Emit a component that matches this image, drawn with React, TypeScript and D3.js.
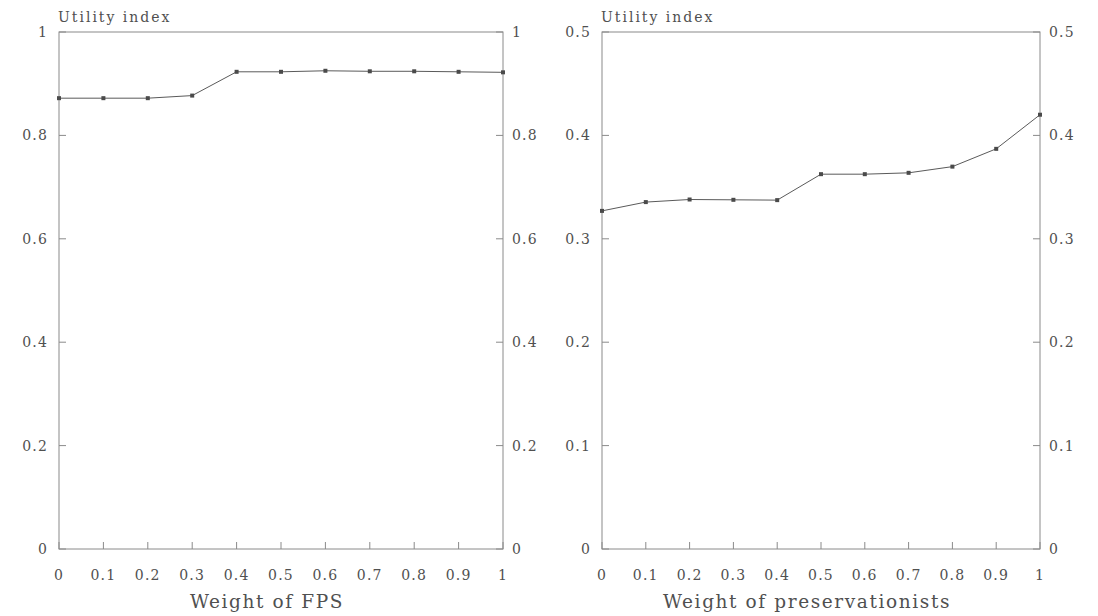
import React from "react";
import * as d3 from "d3";

// Weight steps shared by both panels
const weights = [0, 0.1, 0.2, 0.3, 0.4, 0.5, 0.6, 0.7, 0.8, 0.9, 1];

// Utility index as the FPS weight varies
const fpsUtility = [0.872, 0.872, 0.872, 0.877, 0.923, 0.923, 0.925, 0.924, 0.924, 0.923, 0.922];

// Utility index as the preservationists' weight varies
const presUtility = [0.327, 0.3355, 0.338, 0.3377, 0.3374, 0.3625, 0.3625, 0.3638, 0.3698, 0.387, 0.42];

const xTickValues = [0, 0.1, 0.2, 0.3, 0.4, 0.5, 0.6, 0.7, 0.8, 0.9, 1];
const fpsYTicks = [0, 0.2, 0.4, 0.6, 0.8, 1];
const presYTicks = [0, 0.1, 0.2, 0.3, 0.4, 0.5];

const yAxisTitle = "Utility index";
const fpsXTitle = "Weight of FPS";
const presXTitle = "Weight of preservationists";

const FONT = "'DejaVu Serif', 'Liberation Serif', serif";
const INK = "#5a5a5a";
const FRAME = "#8a8a8a";
const TEXT = "#505050";

const fmt = (v: number) => (v === 0 || v === 1 ? String(v) : String(+v.toFixed(2)));

type PanelProps = {
  left: number;
  right: number;
  top: number;
  bottom: number;
  yMax: number;
  yTicks: number[];
  values: number[];
  xTitle: string;
};

function Panel({ left, right, top, bottom, yMax, yTicks, values, xTitle }: PanelProps) {
  const x = d3.scaleLinear().domain([0, 1]).range([left, right]);
  const y = d3.scaleLinear().domain([0, yMax]).range([bottom, top]);
  const line = d3
    .line<number>()
    .x((_, i) => x(weights[i]))
    .y((d) => y(d));
  const tickLen = 7;
  return (
    <g>
      <rect x={left} y={top} width={right - left} height={bottom - top} fill="none" stroke={FRAME} strokeWidth={1} />
      <text x={left - 1} y={top - 10} fontFamily={FONT} fontSize={14} fill={TEXT} letterSpacing={2}>
        {yAxisTitle}
      </text>
      {yTicks.map((t) => (
        <g key={"y" + t}>
          <line x1={left} x2={left + tickLen} y1={y(t)} y2={y(t)} stroke={FRAME} />
          <line x1={right} x2={right - tickLen} y1={y(t)} y2={y(t)} stroke={FRAME} />
          <text x={left - 11} y={y(t) + 5} textAnchor="end" fontFamily={FONT} fontSize={14} fill={TEXT} letterSpacing={1.2}>
            {fmt(t)}
          </text>
          <text x={right + 9} y={y(t) + 5} textAnchor="start" fontFamily={FONT} fontSize={14} fill={TEXT} letterSpacing={1.2}>
            {fmt(t)}
          </text>
        </g>
      ))}
      {xTickValues.map((t) => (
        <g key={"x" + t}>
          <line x1={x(t)} x2={x(t)} y1={bottom} y2={bottom - tickLen} stroke={FRAME} />
          <text x={x(t)} y={bottom + 31} textAnchor="middle" fontFamily={FONT} fontSize={14} fill={TEXT} letterSpacing={1.2}>
            {fmt(t)}
          </text>
        </g>
      ))}
      <text
        x={(left + right) / 2 - 14}
        y={bottom + 59}
        textAnchor="middle"
        fontFamily={FONT}
        fontSize={18.5}
        fill={TEXT}
        letterSpacing={1.6}
      >
        {xTitle}
      </text>
      <path d={line(values) ?? ""} fill="none" stroke={INK} strokeWidth={1} />
      {values.map((v, i) => (
        <rect key={"m" + i} x={x(weights[i]) - 2} y={y(v) - 2} width={4} height={4} fill="#4a4a4a" />
      ))}
    </g>
  );
}

export default function App() {
  return (
    <svg width={1098} height={616} style={{ display: "block", position: "absolute", left: 0, top: 0, background: "#fff" }}>
      <Panel left={59} right={503} top={32} bottom={549} yMax={1} yTicks={fpsYTicks} values={fpsUtility} xTitle={fpsXTitle} />
      <Panel left={602} right={1040} top={32} bottom={549} yMax={0.5} yTicks={presYTicks} values={presUtility} xTitle={presXTitle} />
    </svg>
  );
}
